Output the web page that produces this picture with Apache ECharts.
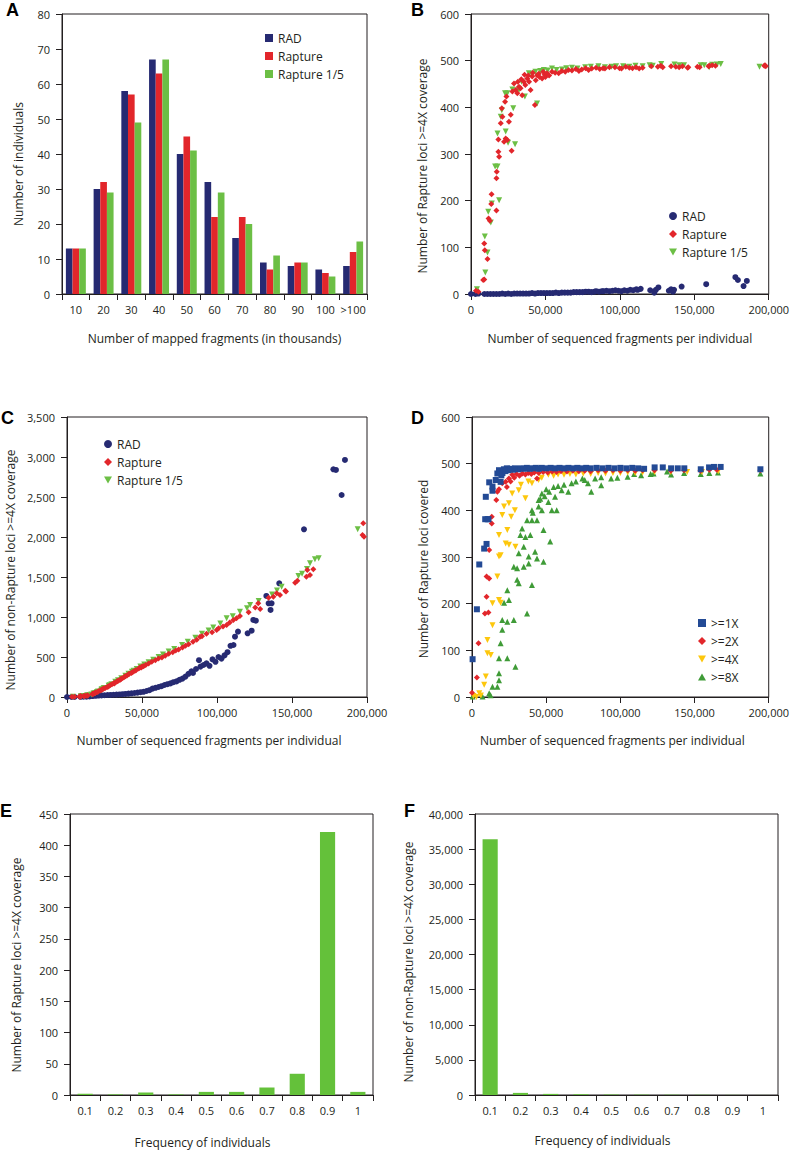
<!DOCTYPE html>
<html><head><meta charset="utf-8">
<script src="https://cdn.jsdelivr.net/npm/echarts@6/dist/echarts.min.js"></script>
<style>html,body{margin:0;padding:0;background:#fff}#c{width:792px;height:1151px}</style>
</head><body><div id="c"></div>
<script>
// ---------- Panel A ----------
const catsA = ['10','20','30','40','50','60','70','80','90','100','>100'];
const radA = [13,30,58,67,40,32,16,9,8,7,8];
const raptureA = [13,32,57,63,45,22,22,7,9,6,12];
const rapture5A = [13,29,49,67,41,29,20,11,9,5,15];

// ---------- Panels B & C (shared x per individual) ----------
const radX = [0,3000,5000,9000,11000,13000,15000,17000,19000,21000,23000,25000,27000,29000,31000,33000,35000,37000,39000,41000,43000,45000,47000,49000,51000,53000,55000,57000,59000,61000,63000,65000,67000,69000,71000,73000,75000,77000,79000,81000,83000,84000,86000,88000,89000,91000,93000,95000,97000,99000,101000,103000,105000,107000,109000,111000,112000,114000,120400,123100,124200,125900,132900,134400,135700,136400,141500,158000,177600,179300,183100,185300];
const radB = [0,0,1,0,0,0,0,0,0,1,0,1,0,1,1,1,1,1,1,2,1,2,2,2,2,2,2,3,2,3,3,3,3,4,4,4,4,5,5,4,5,6,5,6,6,7,6,7,8,7,6,8,7,9,8,10,9,11,8,3,9,14,7,10,5,9,16,21,36,30,17,28];
const radC = [0,0,1,2,3,5,8,12,15,18,20,22,25,26,28,30,32,35,38,42,46,50,55,60,65,75,85,105,115,125,135,150,160,170,185,195,215,230,255,290,320,300,350,460,380,400,420,390,470,440,500,480,520,560,640,650,754,817,796,829,963,954,1263,1171,1088,1171,1421,2096,2846,2838,2525,2963];

const rapX = [3300,5000,8200,8900,8900,9300,11100,11800,12700,13600,13800,17100,17100,17300,18400,18400,18900,20000,20700,21100,22200,22900,23300,23800,24400,25500,26700,27300,27800,28900,30000,31100,31500,32200,33300,33800,34400,35500,36000,36500,37800,38500,39000,40000,41100,41500,42900,43500,44400,45500,46000,47800,48500,49500,50000,51100,52500,54400,56500,58900,61000,63300,65500,67800,70500,72500,74400,77000,79000,81100,84000,86500,88700,90000,93000,96700,99800,101100,104000,106400,108500,110900,113000,115300,121100,125500,127500,128800,134400,137600,139800,142000,145500,146000,152100,153600,159600,160200,162000,164200,197000,197500,198000];
const rapB = [7,5,30,31,108,94,75,162,157,193,214,179,248,262,305,331,294,366,398,380,326,412,333,423,330,369,384,307,434,451,437,430,455,444,441,460,426,455,470,448,462,468,455,437,466,474,405,458,469,472,465,462,476,470,465,473,468,476,474,473,478,476,480,479,482,478,481,484,480,483,485,482,484,483,486,486,484,483,487,485,484,486,483,485,488,487,489,486,488,487,486,488,485,486,487,486,488,489,490,489,489,490,488];
const rapC = [3,4,6,7,8,9,12,14,16,18,20,35,40,42,48,50,52,60,68,72,80,88,95,98,105,112,125,128,135,150,160,172,170,180,195,200,205,215,225,230,245,255,260,270,285,290,300,310,320,330,335,355,365,370,380,385,400,420,440,460,480,495,515,540,560,580,595,620,640,660,690,715,754,760,790,810,838,860,880,900,930,963,985,1013,1060,1120,1171,1100,1240,1254,1296,1275,1329,1320,1429,1454,1504,1588,1525,1596,2025,2171,2004];

const rap5X = [4000,9600,9300,11100,11600,13300,14000,16200,17800,17800,18900,20000,20700,22900,23300,24400,24900,27800,28400,29600,32200,34000,36200,38900,41000,43300,44400,46500,48900,51500,54400,57500,61100,64000,67800,71500,76700,80500,85600,90000,94400,97500,102200,106400,110500,115300,120000,122100,127800,136700,140000,143100,154300,156700,160000,162000,165300,167800,193800];
const rap5B = [10,46,123,89,176,153,194,273,273,344,201,380,394,430,348,430,324,438,398,321,437,455,423,473,470,476,408,478,480,479,483,480,481,484,485,483,486,487,488,486,487,488,488,487,489,488,490,489,493,492,490,490,490,490,486,491,492,493,487];
const rap5C = [2,8,9,12,14,18,22,32,42,44,50,62,70,92,96,108,112,140,148,160,190,210,235,265,290,315,328,350,380,405,435,465,500,530,570,600,650,690,740,790,830,870,920,983,1010,1067,1110,1150,1200,1280,1330,1379,1513,1540,1600,1671,1721,1733,2096];

// ---------- Panel D: [fragments, loci covered] ----------
const cov1 = [[400,81],[3300,188],[4900,284],[8200,318],[9300,429],[8900,381],[9800,328],[10500,381],[11100,381],[11600,460],[13800,442],[13800,451],[16000,465],[17100,479],[18200,486],[19300,461],[19800,475],[20500,480],[21500,488],[22500,484],[23500,490],[24500,486],[26000,489],[27500,487],[29000,490],[31000,488],[33000,490],[35000,489],[37000,491],[39000,489],[41000,490],[43000,491],[45000,489],[47000,491],[50000,490],[53000,491],[56000,490],[59000,491],[62000,490],[65000,491],[68000,490],[71000,491],[74000,490],[77000,491],[80000,490],[84000,491],[88000,490],[92000,491],[96000,490],[100000,491],[104000,490],[108000,491],[112000,490],[116000,489],[123100,492],[128600,492],[134200,490],[138700,490],[143100,490],[154200,488],[159800,492],[163100,493],[167600,493],[194400,488]];
const cov2 = [[0,9],[3300,42],[4400,115],[8700,179],[9800,215],[11100,181],[9800,258],[11600,254],[11600,315],[13300,372],[13300,386],[16400,422],[17100,440],[18200,445],[20400,458],[22700,461],[23500,450],[24900,468],[26000,462],[27100,476],[28500,470],[30000,478],[32000,474],[34000,479],[36000,477],[38000,480],[40000,478],[43800,468],[42000,481],[45000,480],[48000,482],[51000,481],[54000,483],[57000,482],[60000,484],[64000,483],[68000,485],[72000,484],[76000,485],[80000,484],[85000,486],[90000,485],[95000,486],[100000,485],[105000,486],[110000,485],[115000,486],[123000,486],[134000,485],[143000,486],[154000,485],[160000,487],[165000,487],[194400,486]];
const cov4 = [[1000,2],[3000,0],[4900,8],[6000,3],[8200,26],[9300,44],[10400,94],[12700,90],[10400,122],[13800,154],[13800,201],[18200,208],[19300,202],[17100,258],[18200,301],[19300,304],[22700,329],[24900,326],[29300,322],[18200,347],[23800,358],[26400,386],[28900,400],[20400,390],[21600,408],[24900,415],[27100,436],[31500,443],[36000,426],[33000,455],[38000,462],[40400,458],[44900,465],[47000,470],[51500,476],[55000,474],[58000,477],[62000,476],[66000,478],[70000,477],[75000,479],[80000,478],[85000,480],[90000,479],[95000,480],[100000,480],[105000,481],[110000,480],[115000,481],[123000,482],[134000,482],[145000,482],[155000,482],[166000,484]];
const cov8 = [[400,1],[7100,1],[11600,8],[12500,4],[13800,22],[17100,22],[18200,36],[18200,51],[18200,83],[23800,83],[29300,65],[19300,115],[20400,144],[20400,165],[23800,161],[28200,165],[21600,202],[24900,208],[23800,229],[30400,251],[31500,244],[37100,179],[40400,240],[28200,279],[30400,276],[34900,279],[38200,286],[48200,290],[43800,297],[31500,308],[34900,322],[38200,301],[42500,311],[52700,333],[32600,347],[36000,343],[39300,347],[33800,361],[37100,379],[40400,379],[43800,379],[48200,358],[40400,400],[41000,395],[44900,408],[47100,400],[53800,400],[57100,400],[44900,422],[46000,425],[49000,430],[50000,445],[51500,418],[52000,440],[55000,450],[56000,429],[47100,436],[58000,452],[60400,443],[62000,455],[64900,440],[67100,458],[70000,462],[74400,468],[76000,465],[78200,458],[80400,440],[83000,468],[87100,471],[87100,454],[93800,468],[98000,470],[104900,472],[109300,478],[114000,475],[120400,478],[122400,479],[131500,483],[134200,477],[143000,480],[154200,478],[160000,480],[165800,481],[194400,479]];

// ---------- Panels E & F ----------
const freqCats = ['0.1','0.2','0.3','0.4','0.5','0.6','0.7','0.8','0.9','1'];
const raptureLociE = [2,1,4,1,5,5,12,34,421,5];
const nonRaptureLociF = [36400,300,160,110,70,55,45,35,20,10];

// ---------- axis titles ----------
const yTitles = ['Number of individuals','Number of Rapture loci >=4X coverage','Number of non-Rapture loci >=4X coverage','Number of Rapture loci covered','Number of Rapture loci >=4X coverage','Number of non-Rapture loci >=4X coverage'];
const xTitles = ['Number of mapped fragments (in thousands)','Number of sequenced fragments per individual','Number of sequenced fragments per individual','Number of sequenced fragments per individual','Frequency of individuals','Frequency of individuals'];
const panelLetters = ['A','B','C','D','E','F'];

// ---------- styling ----------
const FONT = 'Open Sans';
const INK = '#231f20';
const C_RAD = '#262a72', C_RAP = '#e2262b', C_RAP5 = '#6cbf45';
const C_D1 = '#234a95', C_D2 = '#e2262b', C_D4 = '#fdc70d', C_D8 = '#3f9b37', C_BAR = '#64c13a';
const INV_TRI = 'path://M0,0L10,0L5,9Z';
const TRI = 'path://M5,0L10,9L0,9Z';
const fmt = v => Number(v).toLocaleString('en-US');

const grids = [
  {left:62, top:14, width:305, height:280},
  {left:471, top:14, width:300, height:280},
  {left:67, top:417, width:300, height:280},
  {left:472, top:417, width:300, height:280},
  {left:70, top:814, width:303, height:281},
  {left:475, top:814, width:303, height:281}
];
grids.forEach(g => { g.show = true; g.borderColor = INK; g.borderWidth = 1; g.backgroundColor = 'transparent'; g.containLabel = false; });

// y-title centres and panel-letter positions
const yTitlePos = [[18,164],[422,166],[10,570],[423,569],[16,965],[408,962]];
const letterPos = [[6,1],[411,1],[1,409],[411,409],[0,802],[404,802]];

const axLine = {show:true, lineStyle:{color:INK, width:1}};
const axTick = {show:true, length:6, lineStyle:{color:INK, width:1}};
const lab = (extra) => Object.assign({color:INK, fontFamily:FONT, fontSize:11}, extra||{});
const nameStyle = (pad) => ({color:INK, fontFamily:FONT, fontSize:12, padding:pad||0});

function valX(gi, gap, pad) {
  return {type:'value', gridIndex:gi, min:0, max:200000, interval:50000,
    axisLine:axLine, axisTick:axTick, splitLine:{show:false},
    axisLabel:lab({margin:10, formatter:fmt}),
    name:xTitles[gi], nameLocation:'middle', nameGap:gap, nameTextStyle:nameStyle(pad)};
}
function catX(gi, data, gap, pad) {
  return {type:'category', gridIndex:gi, data:data, boundaryGap:true,
    axisLine:axLine, axisTick:Object.assign({alignWithLabel:false, interval:0}, axTick), splitLine:{show:false},
    axisLabel:lab({margin:10, interval:0}),
    name:xTitles[gi], nameLocation:'middle', nameGap:gap, nameTextStyle:nameStyle(pad)};
}
function valY(gi, max, interval) {
  return {type:'value', gridIndex:gi, min:0, max:max, interval:interval,
    axisLine:axLine, axisTick:axTick, splitLine:{show:false},
    axisLabel:lab({margin:12, formatter:fmt})};
}
const zip = (xs, ys) => xs.map((x, i) => [x, ys[i]]);
function sc(name, gi, data, symbol, color, size) {
  return {type:'scatter', name:name, xAxisIndex:gi, yAxisIndex:gi, data:data,
    symbol:symbol, symbolSize:size||6, itemStyle:{color:color, opacity:1}, silent:true, animation:false};
}
function bar(name, gi, data, color, extra) {
  return Object.assign({type:'bar', name:name, xAxisIndex:gi, yAxisIndex:gi, data:data,
    itemStyle:{color:color}, animation:false}, extra||{});
}
const legendText = {color:INK, fontFamily:FONT, fontSize:12, lineHeight:14};

const option = {
  backgroundColor:'#fff',
  animation:false,
  title: panelLetters.map((t, i) => ({text:t, left:letterPos[i][0], top:letterPos[i][1], padding:0,
      textStyle:{fontFamily:'Liberation Sans', fontSize:18, fontWeight:'bold', color:'#000'}})),
  graphic: yTitles.map((t, i) => ({type:'text', x:yTitlePos[i][0], y:yTitlePos[i][1], rotation:Math.PI/2, silent:true,
      style:{text:t, align:'center', verticalAlign:'middle', fontFamily:FONT, fontSize:12, fill:INK}})),
  grid: grids,
  legend: [
    {left:260, top:26, orient:'vertical', itemWidth:8, itemHeight:8, itemGap:4, textStyle:legendText,
     data:[{name:'RAD', icon:'rect'},{name:'Rapture', icon:'rect'},{name:'Rapture 1/5', icon:'rect'}], selectedMode:false},
    {left:664, top:204, orient:'vertical', itemWidth:8, itemHeight:8, itemGap:4, textStyle:legendText,
     data:[{name:'RAD', icon:'circle'},{name:'Rapture', icon:'diamond'},{name:'Rapture 1/5', icon:INV_TRI}], selectedMode:false},
    {left:99, top:432, orient:'vertical', itemWidth:8, itemHeight:8, itemGap:4, textStyle:legendText,
     data:[{name:'RAD', icon:'circle'},{name:'Rapture', icon:'diamond'},{name:'Rapture 1/5', icon:INV_TRI}], selectedMode:false},
    {left:693, top:611, orient:'vertical', itemWidth:8, itemHeight:8, itemGap:4, textStyle:legendText,
     data:[{name:'>=1X', icon:'rect'},{name:'>=2X', icon:'diamond'},{name:'>=4X', icon:INV_TRI},{name:'>=8X', icon:TRI}], selectedMode:false}
  ],
  xAxis: [
    catX(0, catsA, 38),
    valX(1, 38),
    valX(2, 37, [0,16,0,0]),
    valX(3, 37, [0,16,0,0]),
    catX(4, freqCats, 41, [0,38,0,0]),
    catX(5, freqCats, 39, [0,48,0,0])
  ],
  yAxis: [
    valY(0, 80, 10),
    valY(1, 600, 100),
    valY(2, 3500, 500),
    valY(3, 600, 100),
    valY(4, 450, 50),
    valY(5, 40000, 5000)
  ],
  series: [
    bar('RAD', 0, radA, C_RAD, {barGap:'0%', barCategoryGap:'28%'}),
    bar('Rapture', 0, raptureA, C_RAP, {barGap:'0%', barCategoryGap:'28%'}),
    bar('Rapture 1/5', 0, rapture5A, C_RAP5, {barGap:'0%', barCategoryGap:'28%'}),

    sc('RAD', 1, zip(radX, radB), 'circle', C_RAD, 6),
    sc('Rapture 1/5', 1, zip(rap5X, rap5B), INV_TRI, C_RAP5, 6),
    sc('Rapture', 1, zip(rapX, rapB), 'diamond', C_RAP, 6),

    sc('RAD', 2, zip(radX, radC), 'circle', C_RAD, 6),
    sc('Rapture 1/5', 2, zip(rap5X, rap5C), INV_TRI, C_RAP5, 6),
    sc('Rapture', 2, zip(rapX, rapC), 'diamond', C_RAP, 6),

    sc('>=8X', 3, cov8, TRI, C_D8, 6),
    sc('>=4X', 3, cov4, INV_TRI, C_D4, 6),
    sc('>=2X', 3, cov2, 'diamond', C_D2, 6),
    sc('>=1X', 3, cov1, 'rect', C_D1, 6),

    bar('E', 4, raptureLociE, C_BAR, {barCategoryGap:'50%'}),
    bar('F', 5, nonRaptureLociF, C_BAR, {barCategoryGap:'50%'})
  ]
};
const chart = echarts.init(document.getElementById('c'), null, {renderer:'svg', width:792, height:1151});
chart.setOption(option);
</script>
</body></html>
